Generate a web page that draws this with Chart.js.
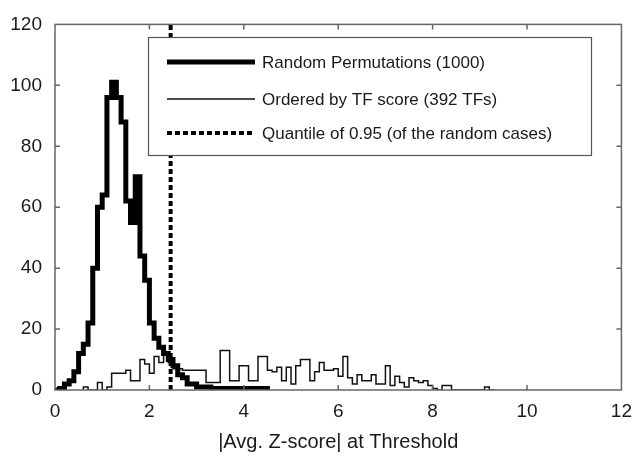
<!DOCTYPE html>
<html>
<head>
<meta charset="utf-8">
<script src="https://cdn.jsdelivr.net/npm/chart.js@4/dist/chart.umd.min.js"></script>
<style>
  html, body { margin: 0; padding: 0; background: #fff; }
  #wrap { width: 642px; height: 462px; }
</style>
</head>
<body>
<div id="wrap"><canvas id="zChart" width="642" height="462"></canvas></div>
<script>
// histogram bins, width 0.1
const binWidth = 0.1;
const randomStart = 0.0;
const randomCounts = [
  0, 0.5, 2, 3, 6, 12, 15, 22, 40, 60,
  64, 96, 101, 96, 88, 62, 55, 70, 44, 36,
  22, 17, 14, 12, 10, 8, 5, 4, 2, 2,
  1, 1, 1, 0.5, 0.5, 0.5, 0.5, 0.5, 0.5, 0.5,
  0.5, 0.5, 0.5, 0.5, 0.5
];
const orderedStart = 0.6;
const orderedCounts = [
  1, 0, 0, 2.5, 0, 1, 5.5, 5.5, 5.5, 6.5,
  3, 3, 10, 8.5, 5.5, 11, 9, 11.5, 9, 7,
  7, 6.5, 6.5, 6.5, 6.5, 6.5, 2.5, 2.5, 2.5, 13,
  13, 3, 3, 8, 8, 3, 3, 11, 11, 6.5,
  6, 7.5, 3, 7.5, 2, 8, 10, 10, 3, 6,
  9, 6.5, 6.5, 7, 4.5, 11, 4, 2, 5, 3,
  3, 5, 2, 2, 8, 1.5, 4.5, 2.5, 1, 4,
  3, 2.5, 3, 1.5, 0.5, 0, 1.5, 1.5, 0, 0,
  0, 0, 0, 0, 0, 1, 0
];
const quantile95 = 2.45;
const seriesNames = [
  "Random Permutations (1000)",
  "Ordered by TF score (392 TFs)",
  "Quantile of 0.95 (of the random cases)"
];
const xTicks = [0, 2, 4, 6, 8, 10, 12];
const yTicks = [0, 20, 40, 60, 80, 100, 120];

// turn bin counts into step points (left edges, plus closing edge)
function histPoints(start, counts) {
  let pts = [{x: start, y: 0}];
  counts.forEach((c, i) => pts.push({x: +(start + i * binWidth).toFixed(2), y: c}));
  pts.push({x: +(start + counts.length * binWidth).toFixed(2), y: 0});
  return pts;
}

const FONT = "'Liberation Sans', Arial, sans-serif";

const frameAndLegend = {
  id: 'frameAndLegend',
  afterDatasetsDraw(chart) {
    const ctx = chart.ctx;
    const a = chart.chartArea;
    const xs = chart.scales.x, ys = chart.scales.y;
    ctx.save();
    // frame
    ctx.strokeStyle = '#666';
    ctx.lineWidth = 1.5;
    ctx.strokeRect(a.left, a.top, a.right - a.left, a.bottom - a.top);
    // inward ticks
    ctx.beginPath();
    xTicks.slice(1, -1).forEach(v => {
      const px = xs.getPixelForValue(v);
      ctx.moveTo(px, a.bottom); ctx.lineTo(px, a.bottom - 5);
      ctx.moveTo(px, a.top); ctx.lineTo(px, a.top + 5);
    });
    yTicks.slice(1, -1).forEach(v => {
      const py = ys.getPixelForValue(v);
      ctx.moveTo(a.left, py); ctx.lineTo(a.left + 5, py);
      ctx.moveTo(a.right, py); ctx.lineTo(a.right - 5, py);
    });
    ctx.stroke();

    // legend box
    const bx = 148.5, by = 37.5, bw = 443, bh = 118;
    ctx.fillStyle = '#fff';
    ctx.fillRect(bx, by, bw, bh);
    ctx.strokeStyle = '#555';
    ctx.lineWidth = 1.2;
    ctx.strokeRect(bx, by, bw, bh);
    const rows = [62, 99, 133];
    chart.data.datasets.forEach((ds, i) => {
      const y = rows[i];
      ctx.beginPath();
      ctx.strokeStyle = ds.borderColor;
      ctx.lineWidth = ds.borderWidth;
      ctx.setLineDash(ds.borderDash || []);
      ctx.moveTo(167, y); ctx.lineTo(255, y);
      ctx.stroke();
      ctx.setLineDash([]);
      ctx.fillStyle = '#1a1a1a';
      ctx.font = '17px ' + FONT;
      ctx.textBaseline = 'middle';
      ctx.textAlign = 'left';
      ctx.fillText(ds.label, 262, y + 1);
    });
    ctx.restore();
  }
};

new Chart(document.getElementById('zChart'), {
  type: 'line',
  data: {
    datasets: [
      {
        label: seriesNames[0],
        data: histPoints(randomStart, randomCounts),
        borderColor: '#000',
        borderWidth: 5,
        stepped: true,
        pointRadius: 0,
        fill: false,
        borderJoinStyle: 'miter'
      },
      {
        label: seriesNames[1],
        data: histPoints(orderedStart, orderedCounts),
        borderColor: '#111',
        borderWidth: 1.5,
        stepped: true,
        pointRadius: 0,
        fill: false
      },
      {
        label: seriesNames[2],
        data: [{x: quantile95, y: 0}, {x: quantile95, y: 120}],
        borderColor: '#000',
        borderWidth: 4,
        borderDash: [5, 3],
        pointRadius: 0,
        fill: false
      }
    ]
  },
  options: {
    responsive: false,
    animation: false,
    layout: { padding: { top: 18, right: 12, left: 0, bottom: 0 } },
    plugins: {
      legend: { display: false },
      tooltip: { enabled: false }
    },
    scales: {
      x: {
        type: 'linear',
        min: 0,
        max: 12,
        afterBuildTicks: (scale) => { scale.ticks = xTicks.map(v => ({value: v})); },
        afterFit: (scale) => { scale.height = 72; },
        grid: { display: false, drawTicks: false },
        border: { display: false },
        ticks: { color: '#1a1a1a', padding: 10, font: { size: 19, family: FONT } },
        title: {
          display: true,
          text: '|Avg. Z-score| at Threshold',
          color: '#1a1a1a',
          font: { size: 20, family: FONT },
          padding: { top: 0, bottom: 8 }
        }
      },
      y: {
        min: 0,
        max: 120,
        afterBuildTicks: (scale) => { scale.ticks = yTicks.map(v => ({value: v})); },
        afterFit: (scale) => { scale.width = 55; },
        grid: { display: false, drawTicks: false },
        border: { display: false },
        ticks: { color: '#1a1a1a', padding: 13, font: { size: 19, family: FONT } }
      }
    }
  },
  plugins: [frameAndLegend]
});
</script>
</body>
</html>
